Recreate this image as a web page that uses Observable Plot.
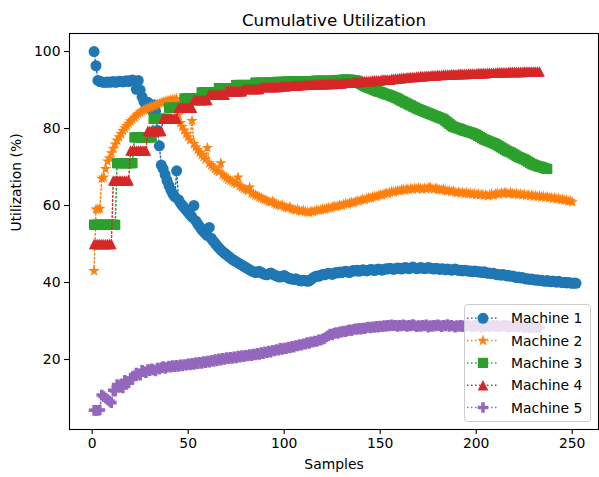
<!DOCTYPE html>
<html>
<head>
<meta charset="utf-8">
<script src="https://cdn.jsdelivr.net/npm/d3@7"></script>
<script src="https://cdn.jsdelivr.net/npm/@observablehq/plot@0.6"></script>
<style>
  html, body { margin: 0; padding: 0; background: #fff; }
  #chart { width: 599px; height: 477px; }
</style>
</head>
<body>
<div id="chart"></div>
<script>
// ---------------- data ----------------
const seriesNames = ["Machine 1", "Machine 2", "Machine 3", "Machine 4", "Machine 5"];
const seriesColors = ["#1f77b4", "#ff7f0e", "#2ca02c", "#d62728", "#9467bd"];
const xTicks = [0, 50, 100, 150, 200, 250];
const yTicks = [20, 40, 60, 80, 100];
const titleText = "Cumulative Utilization";
const xLabel = "Samples";
const yLabel = "Utilization (%)";

// Machine 1 (samples 1..252)
const machine1 = [
100, 96.3, 92.5, 92.2, 92.1, 92.0, 92.0, 92.1, 92.0, 92.1,
92.2, 92.0, 92.1, 92.3, 92.2, 92.1, 92.3, 92.4, 92.2, 92.5,
92.6, 92.3, 90.2, 92.5, 90.0, 88.2, 87.0, 86.2, 86.8, 85.5,
84.8, 86.2, 84.5, 79.5, 75.5, 70.5, 69.5, 68.0, 66.5, 65.2,
64.0, 63.0, 62.3, 69.0, 61.5, 60.6, 60.0, 59.4, 58.8, 58.2,
57.6, 57.0, 60.0, 56.0, 55.2, 54.5, 53.8, 53.2, 52.7, 52.2,
54.3, 51.5, 50.8, 50.2, 49.6, 49.0, 48.5, 48.0, 47.6, 47.2,
46.8, 46.4, 46.0, 45.7, 45.4, 45.1, 44.8, 44.5, 44.2, 43.9,
43.6, 43.3, 43.0, 42.8, 42.6, 42.7, 42.9, 42.6, 42.3, 42.1,
42.0, 42.3, 42.5, 42.2, 41.9, 41.7, 41.5, 41.4, 41.6, 41.8,
41.5, 41.2, 41.0, 40.9, 40.8, 41.0, 40.7, 40.5, 40.4, 40.6,
40.5, 40.3, 40.4, 40.8, 41.2, 41.5, 41.7, 41.6, 41.9, 42.1,
42.0, 42.2, 42.4, 42.3, 42.1, 42.4, 42.6, 42.5, 42.7, 42.6,
42.8, 42.9, 42.7, 42.6, 42.9, 43.1, 43.0, 43.2, 42.9, 43.1,
43.3, 43.2, 43.0, 43.2, 43.4, 43.3, 43.1, 43.3, 43.5, 43.4,
43.2, 43.4, 43.6, 43.5, 43.7, 43.6, 43.4, 43.6, 43.8, 43.7,
43.5, 43.7, 43.9, 43.8, 43.6, 43.8, 44.0, 43.8, 43.6, 43.7,
43.9, 43.8, 43.6, 43.7, 43.9, 43.8, 43.6, 43.5, 43.7, 43.6,
43.4, 43.6, 43.5, 43.3, 43.5, 43.4, 43.2, 43.3, 43.5, 43.3,
43.1, 43.2, 43.0, 43.2, 43.1, 42.9, 43.0, 42.8, 43.0, 42.9,
42.7, 42.8, 42.6, 42.8, 42.6, 42.4, 42.5, 42.3, 42.4, 42.2,
42.0, 42.1, 41.9, 42.1, 41.9, 41.7, 41.8, 41.6, 41.7, 41.5,
41.3, 41.4, 41.2, 41.3, 41.1, 40.9, 41.0, 40.8, 40.9, 40.7,
40.6, 40.7, 40.5, 40.6, 40.4, 40.3, 40.5, 40.3, 40.2, 40.4,
40.2, 40.1, 40.3, 40.1, 40.0, 40.1, 39.9, 40.0, 39.9, 39.8,
39.9, 39.8
];

// Machine 2 (samples 1..250)
const machine2 = [
43.0, 59.0, 59.0, 59.2, 67.0, 67.3, 69.5, 71.5, 72.3, 73.6,
74.8, 75.9, 76.9, 77.8, 78.6, 79.4, 80.1, 80.7, 81.3, 81.9,
82.4, 82.9, 83.4, 83.8, 84.2, 84.5, 84.8, 85.1, 85.3, 85.5,
85.7, 85.9, 86.1, 86.3, 86.5, 86.7, 86.9, 87.0, 87.2, 87.3,
87.4, 87.5, 87.6, 87.7,
83.5, 81.5, 80.5, 79.5, 78.6, 77.8,
77.0, 82.0, 76.0, 75.2, 74.5, 73.8, 73.2, 72.6, 72.0, 75.0,
71.0, 70.5, 70.0, 69.5, 69.1, 68.7, 71.0, 68.0, 67.6, 67.2,
66.8, 66.5, 66.2, 65.9, 65.6, 67.3, 65.0, 64.7, 64.4, 64.1,
63.8, 64.7, 63.2, 63.0, 62.7, 62.5, 62.2, 62.0, 61.7, 61.5,
61.3, 61.0, 60.8, 61.1, 60.6, 60.3, 60.1, 59.9, 60.2, 59.7,
59.5, 59.3, 59.6, 59.1, 58.9, 58.8, 59.0, 58.6, 58.5, 58.7,
58.4, 58.3, 58.2, 58.5, 58.4, 58.6, 58.8, 58.7, 58.9, 59.1,
59.0, 59.2, 59.4, 59.3, 59.6, 59.8, 59.7, 59.9, 60.1, 60.0,
60.3, 60.5, 60.4, 60.6, 60.8, 60.7, 61.0, 61.2, 61.1, 61.4,
61.6, 61.5, 61.8, 62.0, 61.9, 62.2, 62.4, 62.3, 62.6, 62.8,
62.7, 63.0, 63.2, 63.1, 63.4, 63.6, 63.5, 63.7, 63.9, 63.8,
64.0, 64.2, 64.0, 64.3, 64.1, 64.4, 64.2, 64.5, 64.3, 64.6,
64.4, 64.2, 64.5, 64.3, 64.6, 64.8, 64.4, 64.2, 64.5, 64.3,
64.1, 64.0, 64.3, 63.9, 63.7, 63.9, 63.6, 63.8, 63.5, 63.3,
63.5, 63.2, 63.4, 63.1, 63.3, 63.0, 63.2, 62.9, 63.1, 62.8,
63.0, 62.7, 62.9, 62.6, 62.8, 62.5, 62.7, 62.9, 62.6, 63.0,
63.2, 62.9, 63.3, 63.1, 63.4, 63.2, 63.0, 63.3, 63.1, 62.9,
63.1, 62.8, 63.0, 62.7, 62.9, 62.6, 62.8, 62.5, 62.7, 62.4,
62.6, 62.3, 62.5, 62.2, 62.4, 62.1, 62.3, 62.0, 62.1, 61.8,
62.0, 61.7, 61.8, 61.5, 61.6, 61.3, 61.4, 61.1, 61.2, 60.9
];

// Machine 3 (samples 1..237)
const machine3 = [
55, 55, 55, 55, 55, 55, 55, 55, 55, 55, 55, 55,
71, 71, 71, 71, 71, 71, 71, 71, 71,
77.7, 77.7, 77.7, 77.7, 77.7, 77.7, 77.7, 77.7, 77.7, 77.7,
82.5, 82.5, 82.5, 82.5, 82.5, 82.5, 82.5, 82.5,
85.4, 85.4, 85.4, 85.4, 85.4, 85.4, 85.4, 85.4,
87.8, 87.8, 87.8, 87.8, 87.8, 87.8, 87.8, 87.8, 87.8,
89.4, 89.4, 89.4, 89.4, 89.4, 89.4, 89.4, 89.4, 89.4,
90.5, 90.5, 90.5, 90.5, 90.5, 90.5, 90.5, 90.5, 90.5,
91.3, 91.3, 91.3, 91.3, 91.3, 91.3, 91.3, 91.3, 91.3, 91.3,
91.9, 91.9, 91.9, 91.9, 91.9, 91.9, 91.9, 91.9, 91.9, 91.9, 91.9,
92.1, 92.1, 92.1, 92.1, 92.1, 92.2, 92.2, 92.2, 92.2, 92.2,
92.3, 92.3, 92.3, 92.3, 92.3, 92.3, 92.3, 92.3, 92.3, 92.3,
92.4, 92.4, 92.4, 92.4, 92.4, 92.4, 92.4, 92.4, 92.4, 92.4,
92.5, 92.5, 92.6, 92.6, 92.6, 92.7, 92.7, 92.7, 92.7, 92.6, 92.6, 92.5, 92.4,
92.0, 91.6, 91.3, 91.0, 90.8, 90.6, 90.4, 90.2, 90.0, 89.8, 89.6, 89.5,
89.3, 89.1, 88.9, 88.8, 88.6, 88.4, 88.2, 88.0, 87.8, 87.5,
87.2, 87.0, 86.7, 86.5, 86.2, 86.0, 85.7, 85.5, 85.2, 85.0,
84.8, 84.6, 84.4, 84.2, 84.0, 83.8, 83.6, 83.4, 83.2, 83.0,
82.8, 82.6, 82.4, 82.0, 81.6, 81.2, 80.8, 80.5, 80.3, 80.1,
80.0, 79.8, 79.6, 79.4, 79.3, 79.1, 79.0, 78.8, 78.6, 78.4,
78.1, 77.8, 77.5, 77.2, 77.0, 76.8, 76.6, 76.4, 76.2, 76.0,
75.7, 75.4, 75.1, 74.8, 74.5, 74.2, 74.0, 73.8, 73.5, 73.2,
72.9, 72.6, 72.4, 72.2, 72.0, 71.7, 71.4, 71.1, 70.8, 70.6,
70.4, 70.2, 70.1, 70.0, 69.8, 69.6, 69.5
];

// Machine 4 (samples 1..233)
const machine4 = [
50, 50, 50, 50, 50, 50, 50, 50, 50, 50,
66.5, 66.5, 66.5, 66.5, 66.5, 66.5, 66.5, 66.5, 66.5,
74.3, 74.3, 74.3, 74.3, 74.3, 74.3, 74.3, 74.3, 74.3,
79.4, 79.4, 79.4, 79.4, 79.4, 79.4, 79.4, 79.4,
82.6, 82.6, 82.6, 82.6, 82.6, 82.6, 82.6, 82.6,
85.4, 85.4, 85.4, 85.4, 85.4, 85.4, 85.4, 85.4,
87.4, 87.4, 87.4, 87.4, 87.4, 87.4, 87.4, 87.4,
88.8, 88.8, 88.8, 88.8, 88.8, 88.8, 88.8, 88.8, 88.8,
89.7, 89.7, 89.7, 89.7, 89.7, 89.7, 89.7, 89.7, 89.7,
90.3, 90.3, 90.3, 90.3, 90.3, 90.3, 90.3, 90.3, 90.3,
90.8, 90.8, 90.8, 90.8, 90.8, 90.8, 90.8, 90.8, 90.8, 90.8,
90.9, 91.0, 91.0, 91.0, 91.1, 91.1, 91.1, 91.2, 91.2, 91.2, 91.3, 91.3, 91.3,
91.4, 91.4, 91.4, 91.4, 91.4, 91.5, 91.5, 91.5, 91.5, 91.5, 91.6, 91.6, 91.6, 91.6, 91.6,
91.7, 91.7, 91.7, 91.7, 91.7, 91.9, 91.9, 91.9, 91.9, 91.9, 92.1, 92.1, 92.1, 92.1, 92.1,
92.3, 92.3, 92.3, 92.3, 92.3, 92.5, 92.5, 92.5, 92.5, 92.5, 92.7, 92.7, 92.7, 92.7, 92.7,
92.9, 92.9, 93.0, 93.0, 93.1, 93.1, 93.2, 93.2, 93.3, 93.3, 93.4, 93.4, 93.4, 93.5, 93.5,
93.6, 93.6, 93.6, 93.7, 93.7, 93.7, 93.8, 93.8, 93.8, 93.9, 93.9, 93.9, 94.0, 94.0, 94.0, 94.0, 94.1, 94.1, 94.1, 94.1,
94.2, 94.2, 94.2, 94.2, 94.2, 94.3, 94.3, 94.3, 94.3, 94.3, 94.4, 94.4, 94.4, 94.4, 94.4, 94.5, 94.5, 94.5, 94.5, 94.5,
94.6, 94.6, 94.6, 94.6, 94.6, 94.6, 94.7, 94.7, 94.7, 94.7, 94.7, 94.7, 94.7, 94.7,
94.8, 94.8, 94.8, 94.8, 94.8, 94.8, 94.8, 94.8, 94.8
];

// Machine 5 (samples 1..233)
const machine5 = [
6.8, 6.8, 6.8, 6.9,
10.8, 10.4, 10.0, 9.6, 9.2, 8.8,
12.0, 11.8, 13.5, 13.2, 12.9, 12.6, 14.6, 14.2, 13.9, 15.2,
14.8, 15.8, 16.5, 16.2, 15.9, 17.2, 16.9, 16.6, 17.4, 17.1,
17.6, 17.3, 17.0, 17.8, 17.5, 17.9, 18.2, 17.7, 18.0, 18.3,
18.0, 18.4, 18.1, 18.5, 18.2, 18.6, 18.3, 18.7, 18.5, 18.9,
18.6, 19.0, 18.7, 19.2, 18.9, 19.3, 19.0, 19.5, 19.2, 19.6,
19.3, 19.8, 19.5, 20.0, 19.6, 20.2, 19.8, 20.3, 20.0, 20.5,
20.2, 20.6, 20.3, 20.7, 20.4, 20.9, 20.6, 21.0, 20.7, 21.1,
20.9, 21.3, 21.0, 21.4, 21.2, 21.6, 21.3, 21.8, 21.5, 22.0,
21.8, 22.2, 21.9, 22.4, 22.2, 22.6, 22.4, 22.9, 22.6, 23.0,
22.8, 23.2, 23.0, 23.4, 23.2, 23.6, 23.5, 23.9, 23.7, 24.1,
24.0, 24.4, 24.2, 24.6, 24.5, 24.8, 24.7, 25.1, 25.0, 25.3,
25.5, 25.9, 26.2, 26.6, 26.4, 26.8, 27.0, 26.8, 27.2, 27.1,
27.4, 27.2, 27.5, 27.7, 27.5, 27.8, 28.0, 27.8, 28.1, 27.9,
28.2, 28.0, 28.3, 28.4, 28.2, 28.5, 28.3, 28.6, 28.4, 28.7,
28.5, 28.8, 28.6, 28.9, 28.7, 29.0, 28.8, 28.9, 28.6, 28.9,
28.7, 29.0, 28.8, 28.6, 28.9, 28.7, 29.1, 28.8, 28.5, 28.8,
28.6, 28.9, 28.7, 29.0, 28.4, 28.8, 28.6, 28.9, 28.7, 29.0,
28.8, 28.5, 28.9, 28.7, 29.1, 28.6, 28.9, 28.7, 28.4, 28.8,
28.6, 28.9, 28.5, 28.8, 28.6, 29.0, 28.7, 28.5, 28.8, 28.6,
28.9, 28.7, 28.4, 28.8, 28.6, 28.9, 28.5, 28.7, 28.9, 28.6,
28.8, 28.5, 28.7, 28.9, 28.6, 28.8, 28.4, 28.7, 28.5, 28.8,
28.6, 28.4, 28.7, 28.5, 28.3, 28.6, 28.4, 28.2, 28.5, 28.3, 28.4, 28.2, 28.3
];

// ---------------- matplotlib-like marker shapes ----------------
const rad = size => Math.sqrt(size / Math.PI);
const symCircle = { draw(ctx, size) { const r = rad(size); ctx.moveTo(r, 0); ctx.arc(0, 0, r, 0, 2 * Math.PI); ctx.closePath(); } };
const symSquare = { draw(ctx, size) { const r = rad(size); ctx.rect(-r, -r, 2 * r, 2 * r); } };
const symTriangle = { draw(ctx, size) { const r = rad(size); ctx.moveTo(0, -r); ctx.lineTo(r, r); ctx.lineTo(-r, r); ctx.closePath(); } };
const symStar = { draw(ctx, size) {
  const R = rad(size), ri = R * 0.381966;
  for (let i = 0; i < 10; i++) {
    const a = -Math.PI / 2 + i * Math.PI / 5, rr = i % 2 ? ri : R;
    const px = rr * Math.cos(a), py = rr * Math.sin(a);
    if (i) ctx.lineTo(px, py); else ctx.moveTo(px, py);
  }
  ctx.closePath();
} };
const symPlus = { draw(ctx, size) {
  const r = rad(size), t = r / 3;
  ctx.moveTo(-t, -r); ctx.lineTo(t, -r); ctx.lineTo(t, -t); ctx.lineTo(r, -t); ctx.lineTo(r, t);
  ctx.lineTo(t, t); ctx.lineTo(t, r); ctx.lineTo(-t, r); ctx.lineTo(-t, t); ctx.lineTo(-r, t);
  ctx.lineTo(-r, -t); ctx.lineTo(-t, -t); ctx.closePath();
} };

const seriesValues = [machine1, machine2, machine3, machine4, machine5];
const seriesSymbols = [symCircle, symStar, symSquare, symTriangle, symPlus];
const seriesR = [5.5, 6.0, 5.1, 5.3, 5.3];

const tables = seriesValues.map(vals => vals.map((v, i) => ({ sample: i + 1, value: v })));

const dash = "1.5,2.5";
const seriesMarks = tables.flatMap((rows, k) => [
  Plot.line(rows, { x: "sample", y: "value", stroke: seriesColors[k], strokeWidth: 1.5, strokeDasharray: dash }),
  Plot.dot(rows, { x: "sample", y: "value", r: seriesR[k], symbol: seriesSymbols[k], fill: seriesColors[k], stroke: "none" })
]);

const plot = Plot.plot({
  width: 599,
  height: 477,
  marginLeft: 69,
  marginRight: 1,
  marginTop: 33,
  marginBottom: 48,
  style: { fontFamily: "DejaVu Sans, sans-serif", fontSize: "13.9px", color: "#000", background: "#fff" },
  x: { domain: [-11.8, 263.7] },
  y: { domain: [1.82, 104.68] },
  marks: [
    ...seriesMarks,
    Plot.axisX({ ticks: xTicks, tickSize: 5, tickPadding: 4, tickFormat: d => String(d), label: null, fontSize: 13.9, strokeWidth: 1.1 }),
    Plot.axisY({ ticks: yTicks, tickSize: 5, tickPadding: 4, tickFormat: d => String(d), label: null, fontSize: 13.9, strokeWidth: 1.1 }),
    Plot.frame({ stroke: "#000", strokeWidth: 1.1 }),
    Plot.text([titleText], { frameAnchor: "top", dy: -19, fontSize: 16.7, fill: "#000" }),
    Plot.text([xLabel], { frameAnchor: "bottom", dy: 39, fontSize: 13.9, fill: "#000" }),
    Plot.text([yLabel], { frameAnchor: "left", dx: -53, rotate: -90, fontSize: 13.9, fill: "#000" })
  ]
});

// ---------------- legend (drawn on top of the plot) ----------------
const svg = d3.select(plot);
const lg = svg.append("g")
  .attr("font-family", "DejaVu Sans, sans-serif")
  .attr("font-size", "13.9px")
  .attr("text-anchor", "start");
lg.append("rect")
  .attr("x", 464.5).attr("y", 304.5).attr("width", 126).attr("height", 117)
  .attr("rx", 3).attr("ry", 3)
  .attr("fill", "rgba(255,255,255,0.8)").attr("stroke", "#cccccc").attr("stroke-width", 1);
seriesNames.forEach((name, k) => {
  const cy = 318.3 + k * 22.3;
  lg.append("line").attr("x1", 467).attr("x2", 499).attr("y1", cy).attr("y2", cy)
    .attr("stroke", seriesColors[k]).attr("stroke-width", 1.5).attr("stroke-dasharray", dash);
  lg.append("path")
    .attr("d", d3.symbol(seriesSymbols[k], Math.PI * seriesR[k] * seriesR[k])())
    .attr("transform", `translate(483,${cy})`)
    .attr("fill", seriesColors[k]);
  lg.append("text")
    .attr("x", 511).attr("y", cy).attr("dy", "0.36em")
    .attr("text-anchor", "start")
    .attr("fill", "#000").text(name);
});

document.getElementById("chart").appendChild(plot);
</script>
</body>
</html>
